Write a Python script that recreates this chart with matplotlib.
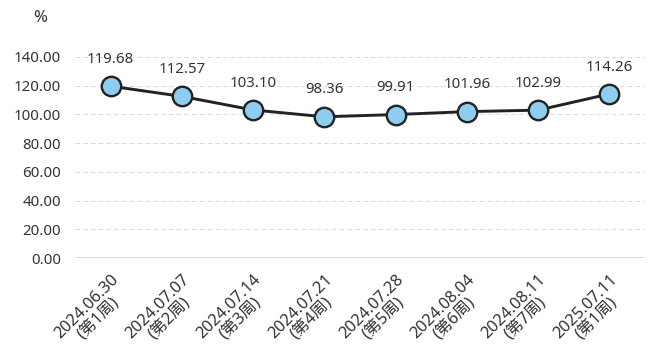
import matplotlib
matplotlib.use("Agg")
import matplotlib.pyplot as plt
from matplotlib.transforms import ScaledTranslation

plt.rcParams['font.family'] = ['Noto Sans', 'Noto Sans CJK SC', 'DejaVu Sans']

categories = ["2024.06.30\n(第1周)", "2024.07.07\n(第2周)", "2024.07.14\n(第3周)",
              "2024.07.21\n(第4周)", "2024.07.28\n(第5周)", "2024.08.04\n(第6周)",
              "2024.08.11\n(第7周)", "2025.07.11\n(第1周)"]
values = [119.68, 112.57, 103.10, 98.36, 99.91, 101.96, 102.99, 114.26]
yticks = [0, 20, 40, 60, 80, 100, 120, 140]

fig = plt.figure(figsize=(6.61, 3.62), dpi=100)
ax = fig.add_axes([75/661, 1-258/362, 570/661, 201/362])

x = list(range(len(values)))
ax.plot(x, values, color='#222222', linewidth=2.1, marker='o', markersize=14,
        markerfacecolor='#8ECCF0', markeredgecolor='#222222', markeredgewidth=1.7,
        clip_on=False, zorder=5)
for xi, v in zip(x, values):
    ax.annotate(f"{v:.2f}", (xi, v), xytext=(0, 14), textcoords='offset points',
                ha='center', va='bottom', fontsize=10.8, color='#333333',
                annotation_clip=False)

ax.set_xlim(-0.5, len(values) - 0.5)
ax.set_ylim(0, 140)
ax.set_yticks(yticks)
ax.set_yticklabels([f"{t:.2f}" for t in yticks], fontsize=10.8, color='#333333')
for t in yticks[1:]:
    ax.axhline(t, color='#DDDDDD', linewidth=0.8, linestyle=(0, (4, 3)), zorder=0)
ax.axhline(0, color='#D9D9D9', linewidth=1.4, zorder=1)

ax.set_xticks(x)
ax.set_xticklabels(categories, rotation=45, ha='right', rotation_mode='anchor',
                   multialignment='center', linespacing=0.95, fontsize=11.8, color='#333333')
off = ScaledTranslation(-6/100, 0, fig.dpi_scale_trans)
for lbl in ax.get_xticklabels():
    lbl.set_transform(lbl.get_transform() + off)
ax.tick_params(axis='both', length=0)
ax.tick_params(axis='y', pad=10)
ax.tick_params(axis='x', pad=10)
for s in ax.spines.values():
    s.set_visible(False)

fig.text(40/661, 1-18/362, "%", fontsize=12, color='#333333', ha='center', va='center')

fig.savefig("out.png", dpi=100)
